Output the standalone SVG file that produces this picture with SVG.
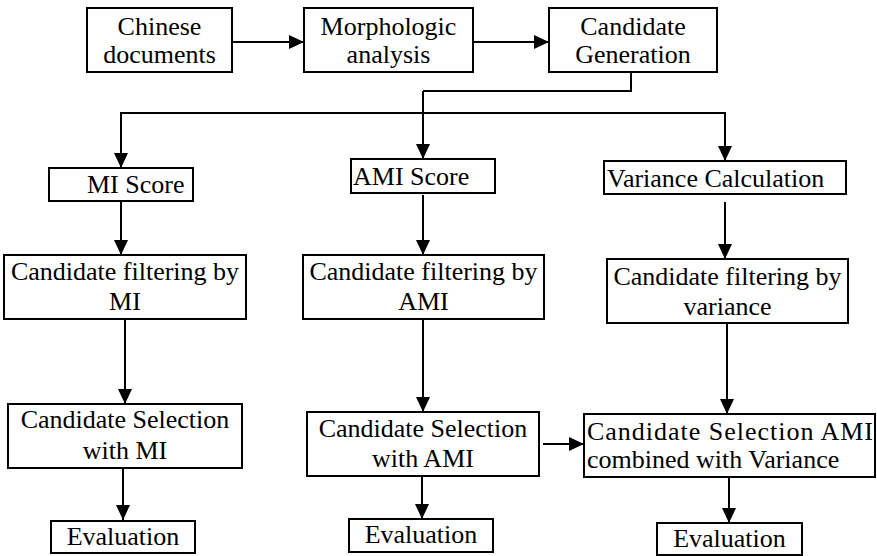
<svg xmlns="http://www.w3.org/2000/svg" width="877" height="556" viewBox="0 0 877 556">
<style>
rect{fill:#fff;stroke:#000;stroke-width:2}
.c{text-anchor:middle}
.ln{fill:none;stroke:#000;stroke-width:2}
</style>
<defs>
<marker id="ah" markerUnits="userSpaceOnUse" markerWidth="15" markerHeight="14" refX="15" refY="7" orient="auto">
<path d="M0,0 L15,7 L0,14 Z" fill="#000"/>
</marker>
</defs>
<rect width="877" height="556" style="fill:#fff;stroke:none"/>
<g id="connectors">
<line class="ln" x1="232" y1="42" x2="304" y2="42" marker-end="url(#ah)"/>
<line class="ln" x1="473" y1="42" x2="549" y2="42" marker-end="url(#ah)"/>
<polyline class="ln" points="631,72 631,91 423,91"/>
<line class="ln" x1="423" y1="91" x2="423" y2="159" marker-end="url(#ah)"/>
<line class="ln" x1="121" y1="113" x2="726" y2="113"/>
<line class="ln" x1="121" y1="112" x2="121" y2="168" marker-end="url(#ah)"/>
<line class="ln" x1="725" y1="112" x2="725" y2="161" marker-end="url(#ah)"/>
<line class="ln" x1="121" y1="201" x2="121" y2="255" marker-end="url(#ah)"/>
<line class="ln" x1="423" y1="195" x2="423" y2="255" marker-end="url(#ah)"/>
<line class="ln" x1="725" y1="202" x2="725" y2="259" marker-end="url(#ah)"/>
<line class="ln" x1="125" y1="319" x2="125" y2="404" marker-end="url(#ah)"/>
<line class="ln" x1="423" y1="319" x2="423" y2="412" marker-end="url(#ah)"/>
<line class="ln" x1="727" y1="323" x2="727" y2="414" marker-end="url(#ah)"/>
<line class="ln" x1="543" y1="444" x2="584" y2="444" marker-end="url(#ah)"/>
<line class="ln" x1="123" y1="468" x2="123" y2="520" marker-end="url(#ah)"/>
<line class="ln" x1="422" y1="476" x2="422" y2="519" marker-end="url(#ah)"/>
<line class="ln" x1="729" y1="477" x2="729" y2="523" marker-end="url(#ah)"/>
</g>
<g font-family="Liberation Serif, Times New Roman, serif" font-size="26" fill="#000">
<g id="chinese-documents">
<rect x="87" y="8" width="145" height="64"/>
<text class="c" x="159.5" y="35">Chinese</text>
<text class="c" x="159.5" y="63">documents</text>
</g>
<g id="morphologic-analysis">
<rect x="304" y="8" width="169" height="64"/>
<text class="c" x="388.5" y="35">Morphologic</text>
<text class="c" x="388.5" y="63">analysis</text>
</g>
<g id="candidate-generation">
<rect x="549" y="8" width="168" height="64"/>
<text class="c" x="633" y="35">Candidate</text>
<text class="c" x="633" y="63">Generation</text>
</g>
<g id="mi-score">
<rect x="49" y="168" width="144" height="33"/>
<text x="87" y="193">MI Score</text>
</g>
<g id="ami-score">
<rect x="351" y="159" width="144" height="34"/>
<text x="353" y="185">AMI Score</text>
</g>
<g id="variance-calculation">
<rect x="604" y="161" width="242" height="33"/>
<text x="607" y="187">Variance Calculation</text>
</g>
<g id="filter-mi">
<rect x="4" y="255" width="242" height="64"/>
<text class="c" x="125" y="280">Candidate filtering by</text>
<text class="c" x="125" y="310">MI</text>
</g>
<g id="filter-ami">
<rect x="303" y="255" width="241" height="64"/>
<text class="c" x="423.5" y="280">Candidate filtering by</text>
<text class="c" x="423.5" y="310">AMI</text>
</g>
<g id="filter-variance">
<rect x="607" y="259" width="241" height="64"/>
<text class="c" x="727.5" y="285">Candidate filtering by</text>
<text class="c" x="727.5" y="315">variance</text>
</g>
<g id="select-mi">
<rect x="8" y="404" width="234" height="64"/>
<text class="c" x="125" y="428">Candidate Selection</text>
<text class="c" x="125" y="459">with MI</text>
</g>
<g id="select-ami">
<rect x="307" y="412" width="232" height="64"/>
<text class="c" x="423" y="437">Candidate Selection</text>
<text class="c" x="423" y="467">with AMI</text>
</g>
<g id="select-combined">
<rect x="584" y="414" width="291" height="63"/>
<text x="587" y="440" textLength="286" lengthAdjust="spacing">Candidate Selection AMI</text>
<text x="587" y="468">combined with Variance</text>
</g>
<g id="evaluation-mi">
<rect x="51" y="521" width="144" height="32"/>
<text class="c" x="123" y="545">Evaluation</text>
</g>
<g id="evaluation-ami">
<rect x="349" y="519" width="144" height="33"/>
<text class="c" x="421" y="543">Evaluation</text>
</g>
<g id="evaluation-combined">
<rect x="657" y="523" width="145" height="32"/>
<text class="c" x="729.5" y="547">Evaluation</text>
</g>
</g>
</svg>
